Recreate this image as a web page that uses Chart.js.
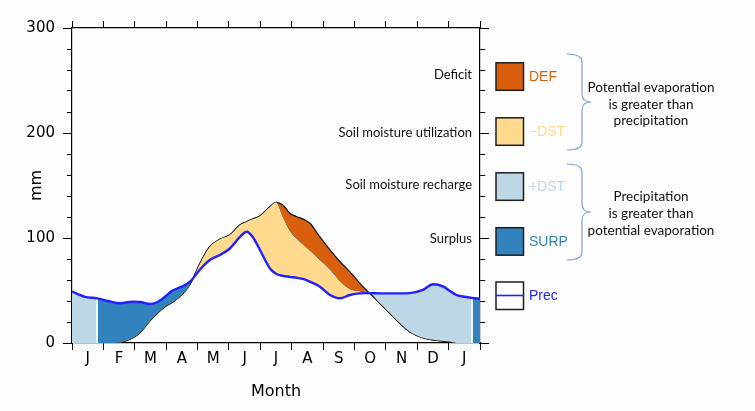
<!DOCTYPE html>
<html>
<head>
<meta charset="utf-8">
<script src="https://cdn.jsdelivr.net/npm/chart.js@4.4.1/dist/chart.umd.min.js"></script>
<style>
  body { margin: 0; background: #fdfdfd; }
  canvas { display: block; }
</style>
</head>
<body>
<canvas id="balance" width="755" height="411"></canvas>
<script>
// month axis: 0 = start of first J, 13 = end of second J
const months = ['J', 'F', 'M', 'A', 'M', 'J', 'J', 'A', 'S', 'O', 'N', 'D', 'J'];

// sample positions (in months) and values (mm)
const xPos = [0, 0.41, 0.80, 1.15, 1.53, 1.91, 2.17, 2.48, 2.74, 2.96, 3.18, 3.50, 3.76, 4.08, 4.39,
  4.71, 5.03, 5.35, 5.57, 5.76, 5.99, 6.31, 6.50, 6.72, 6.94, 7.17, 7.36, 7.58, 7.90, 8.22,
  8.54, 8.85, 9.17, 9.46, 9.81, 10.13, 10.45, 10.76, 11.18, 11.50, 11.82, 12.04, 12.26, 12.52, 12.74, 13.00];

const prec = [49, 44, 42.5, 40, 37.8, 39.3, 39, 37.1, 39.3, 44, 49.5, 53.7, 58.4, 70, 79,
  83.8, 90, 101, 106, 101, 88.6, 71, 66, 64, 63, 62, 61, 58.4, 53.6, 45.7,
  42.6, 45.7, 47.3, 47.5, 47.3, 47.3, 47.3, 47.5, 50.5, 56, 54, 49.5, 45.7, 44, 43, 42];

// potential evaporation
const pet = [0, 0, 0, 0, 0.5, 4.5, 10, 21, 29, 34.6, 38.5, 46, 56, 76, 91.7,
  98.7, 103, 112.4, 115.5, 118, 121, 129.8, 134, 131.4, 123.5, 120.3, 118, 114, 101, 88.6,
  77.4, 68, 56.8, 48, 37.8, 28.3, 18.7, 10.8, 5, 3, 1.8, 1.2, 0, 0, 0, 0];

// actual evaporation (below pet during the deficit months)
const aet = [0, 0, 0, 0, 0.5, 4.5, 10, 21, 29, 34.6, 38.5, 46, 56, 76, 91.7,
  98.7, 103, 112.4, 115.5, 118, 121, 129.8, 134, 120, 107, 99, 94, 88, 79, 70,
  59, 51.5, 49.3, 48, 37.8, 28.3, 18.7, 10.8, 5, 3, 1.8, 1.2, 0, 0, 0, 0];

// where the wet-season fill switches between recharge and surplus
const splitX = [0.80, 6.5, 12.75];

const legendLabels = ['DEF', '\u2212DST', '+DST', 'SURP', 'Prec'];
const legendNotes = ['Deficit', 'Soil moisture utilization', 'Soil moisture recharge', 'Surplus'];
const braceTexts = [
  ['Potential evaporation', 'is greater than', 'precipitation'],
  ['Precipitation', 'is greater than', 'potential evaporation']
];

const colDef = '#d95f0e';
const colUse = '#fed98e';
const colRech = '#bdd7e7';
const colSurp = '#3182bd';
const colPrec = '#2020ff';
const legendColors = [colDef, colUse, colRech, colSurp, colPrec];

function toPoints(vals) {
  return vals.map((v, i) => ({ x: xPos[i], y: v }));
}

// horizontal gradient: recharge / surplus split along the x scale
function blueFill(context) {
  const chart = context.chart;
  const area = chart.chartArea;
  const xs = chart.scales.x;
  if (!area || !xs) return colSurp;
  const w = area.right - area.left;
  const f = v => Math.min(1, Math.max(0, (xs.getPixelForValue(v) - area.left) / w));
  const d = 0.7 / w;
  const a = f(splitX[0]), b = f(splitX[1]), c = f(splitX[2]);
  const g = chart.ctx.createLinearGradient(area.left, 0, area.right, 0);
  g.addColorStop(0, colRech);
  g.addColorStop(a - d, colRech);
  g.addColorStop(a - d, '#f2f7fb');
  g.addColorStop(a + d, '#f2f7fb');
  g.addColorStop(a + d, colSurp);
  g.addColorStop(b, colSurp);
  g.addColorStop(b, colRech);
  g.addColorStop(c - d, colRech);
  g.addColorStop(c - d, '#f2f7fb');
  g.addColorStop(c + d, '#f2f7fb');
  g.addColorStop(c + d, colSurp);
  g.addColorStop(1, colSurp);
  return g;
}

function brace(ctx, top, bot) {
  const mid = (top + bot) / 2, x0 = 567, x1 = 582, x2 = 591, r = 8;
  ctx.beginPath();
  ctx.moveTo(x0, top);
  ctx.quadraticCurveTo(x1, top, x1, top + r);
  ctx.lineTo(x1, mid - r);
  ctx.quadraticCurveTo(x1, mid, x2, mid);
  ctx.moveTo(x2, mid);
  ctx.quadraticCurveTo(x1, mid, x1, mid + r);
  ctx.lineTo(x1, bot - r);
  ctx.quadraticCurveTo(x1, bot, x0, bot);
  ctx.stroke();
}

const decor = {
  id: 'decor',
  beforeDraw(chart) {
    const ctx = chart.ctx;
    ctx.save();
    ctx.fillStyle = '#fdfdfd';
    ctx.fillRect(0, 0, chart.width, chart.height);
    ctx.restore();
  },
  afterDraw(chart) {
    const ctx = chart.ctx;
    const boxY = [76.3, 131.3, 186.3, 241.2, 295.5];
    const noteY = [75, 133, 185, 239];
    ctx.save();
    // legend boxes
    for (let i = 0; i < legendLabels.length; i++) {
      const y = boxY[i];
      ctx.fillStyle = i === 4 ? '#ffffff' : legendColors[i];
      ctx.fillRect(496, y - 13.5, 27.5, 27.5);
      ctx.lineWidth = 1.5;
      ctx.strokeStyle = '#1e1e1e';
      ctx.strokeRect(496, y - 13.5, 27.5, 27.5);
      if (i === 4) {
        ctx.beginPath();
        ctx.strokeStyle = colPrec;
        ctx.lineWidth = 1.6;
        ctx.moveTo(496, y);
        ctx.lineTo(523.5, y);
        ctx.stroke();
      }
      ctx.font = '14px "Liberation Sans"';
      ctx.fillStyle = legendColors[i];
      ctx.textAlign = 'left';
      ctx.textBaseline = 'middle';
      ctx.fillText(legendLabels[i], 529, y + 1);
    }
    // notes inside the plot
    ctx.font = '13px Lato';
    ctx.fillStyle = '#111';
    ctx.textAlign = 'right';
    for (let i = 0; i < legendNotes.length; i++) {
      ctx.fillText(legendNotes[i], 472, noteY[i]);
    }
    // braces and their text
    ctx.strokeStyle = '#7fa3d6';
    ctx.lineWidth = 1.2;
    brace(ctx, 54, 150);
    brace(ctx, 164, 260);
    ctx.font = '13.5px Lato';
    ctx.textAlign = 'center';
    const textY = [[88, 104.5, 121], [197, 213.5, 230.5]];
    for (let k = 0; k < 2; k++) {
      for (let j = 0; j < 3; j++) {
        ctx.fillText(braceTexts[k][j], 651, textY[k][j]);
      }
    }
    ctx.restore();
  }
};

const axisFont = { family: 'DejaVu Sans', size: 15 };

const config = {
  type: 'line',
  data: {
    datasets: [
      {
        label: 'Prec',
        data: toPoints(prec),
        borderColor: colPrec,
        borderWidth: 2.4,
        backgroundColor: blueFill,
        fill: { target: 2, below: colUse },
        pointRadius: 0,
        cubicInterpolationMode: 'monotone'
      },
      {
        label: 'PE',
        data: toPoints(pet),
        borderColor: '#111',
        borderWidth: 1.2,
        backgroundColor: colDef,
        fill: { target: 2, above: colDef, below: 'rgba(0,0,0,0)' },
        pointRadius: 0,
        cubicInterpolationMode: 'monotone'
      },
      {
        label: 'AE',
        data: toPoints(aet),
        borderColor: '#111',
        borderWidth: 1.2,
        fill: false,
        pointRadius: 0,
        cubicInterpolationMode: 'monotone'
      }
    ]
  },
  options: {
    responsive: false,
    animation: false,
    layout: { padding: 0 },
    plugins: {
      legend: { display: false },
      tooltip: { enabled: false }
    },
    scales: {
      x: {
        type: 'linear', position: 'bottom', min: 0, max: 13,
        afterBuildTicks: s => {
          s.ticks = [];
          for (let i = 0; i <= 26; i++) s.ticks.push({ value: i / 2 });
        },
        afterFit: s => { s.height = 68; },
        ticks: {
          autoSkip: false, maxRotation: 0, padding: 0, color: '#000', font: axisFont,
          callback: v => (v % 1 === 0.5 ? months[Math.floor(v)] : '')
        },
        grid: {
          drawOnChartArea: false, tickLength: 7,
          tickColor: c => (c.tick && c.tick.value % 1 === 0 ? '#000' : 'rgba(0,0,0,0)')
        },
        border: { color: '#000', width: 1.2 },
        title: {
          display: true, text: 'Month', color: '#000',
          font: { family: 'DejaVu Sans', size: 16 }, padding: { top: 0, bottom: 10 }
        }
      },
      xTop: {
        type: 'linear', position: 'top', min: 0, max: 13,
        afterBuildTicks: s => {
          s.ticks = [];
          for (let i = 0; i <= 13; i++) s.ticks.push({ value: i });
        },
        afterFit: s => { s.height = 28; },
        ticks: { display: false },
        grid: { drawOnChartArea: false, tickLength: 7, tickColor: '#000' },
        border: { color: '#000', width: 1.2 }
      },
      y: {
        type: 'linear', position: 'left', min: 0, max: 300,
        afterBuildTicks: s => {
          s.ticks = [];
          for (let v = 0; v <= 300; v += 20) s.ticks.push({ value: v });
        },
        afterFit: s => { s.width = 72; },
        ticks: {
          padding: 8, color: '#000', font: axisFont,
          callback: v => (v % 100 === 0 ? v : '')
        },
        grid: {
          drawOnChartArea: false, tickLength: 9, tickColor: '#000',
          tickBorderDash: [0, 4, 9, 100],
          tickBorderDashOffset: c => (c.tick && c.tick.value % 100 === 0 ? 4 : 0)
        },
        border: { color: '#000', width: 1.2 },
        title: {
          display: true, text: 'mm', color: '#000',
          font: { family: 'DejaVu Sans', size: 16 }, padding: { top: 27, bottom: 0 }
        }
      },
      yRight: {
        type: 'linear', position: 'right', min: 0, max: 300,
        afterBuildTicks: s => {
          s.ticks = [];
          for (let v = 0; v <= 300; v += 20) s.ticks.push({ value: v });
        },
        afterFit: s => { s.width = 275; },
        ticks: { display: false },
        grid: {
          drawOnChartArea: false, tickLength: 9, tickColor: '#000',
          tickBorderDash: [9, 100],
          tickBorderDashOffset: c => (c.tick && c.tick.value % 100 === 0 ? 0 : 4)
        },
        border: { color: '#000', width: 1.2 }
      }
    }
  },
  plugins: [decor]
};

new Chart(document.getElementById('balance'), config);
</script>
</body>
</html>
